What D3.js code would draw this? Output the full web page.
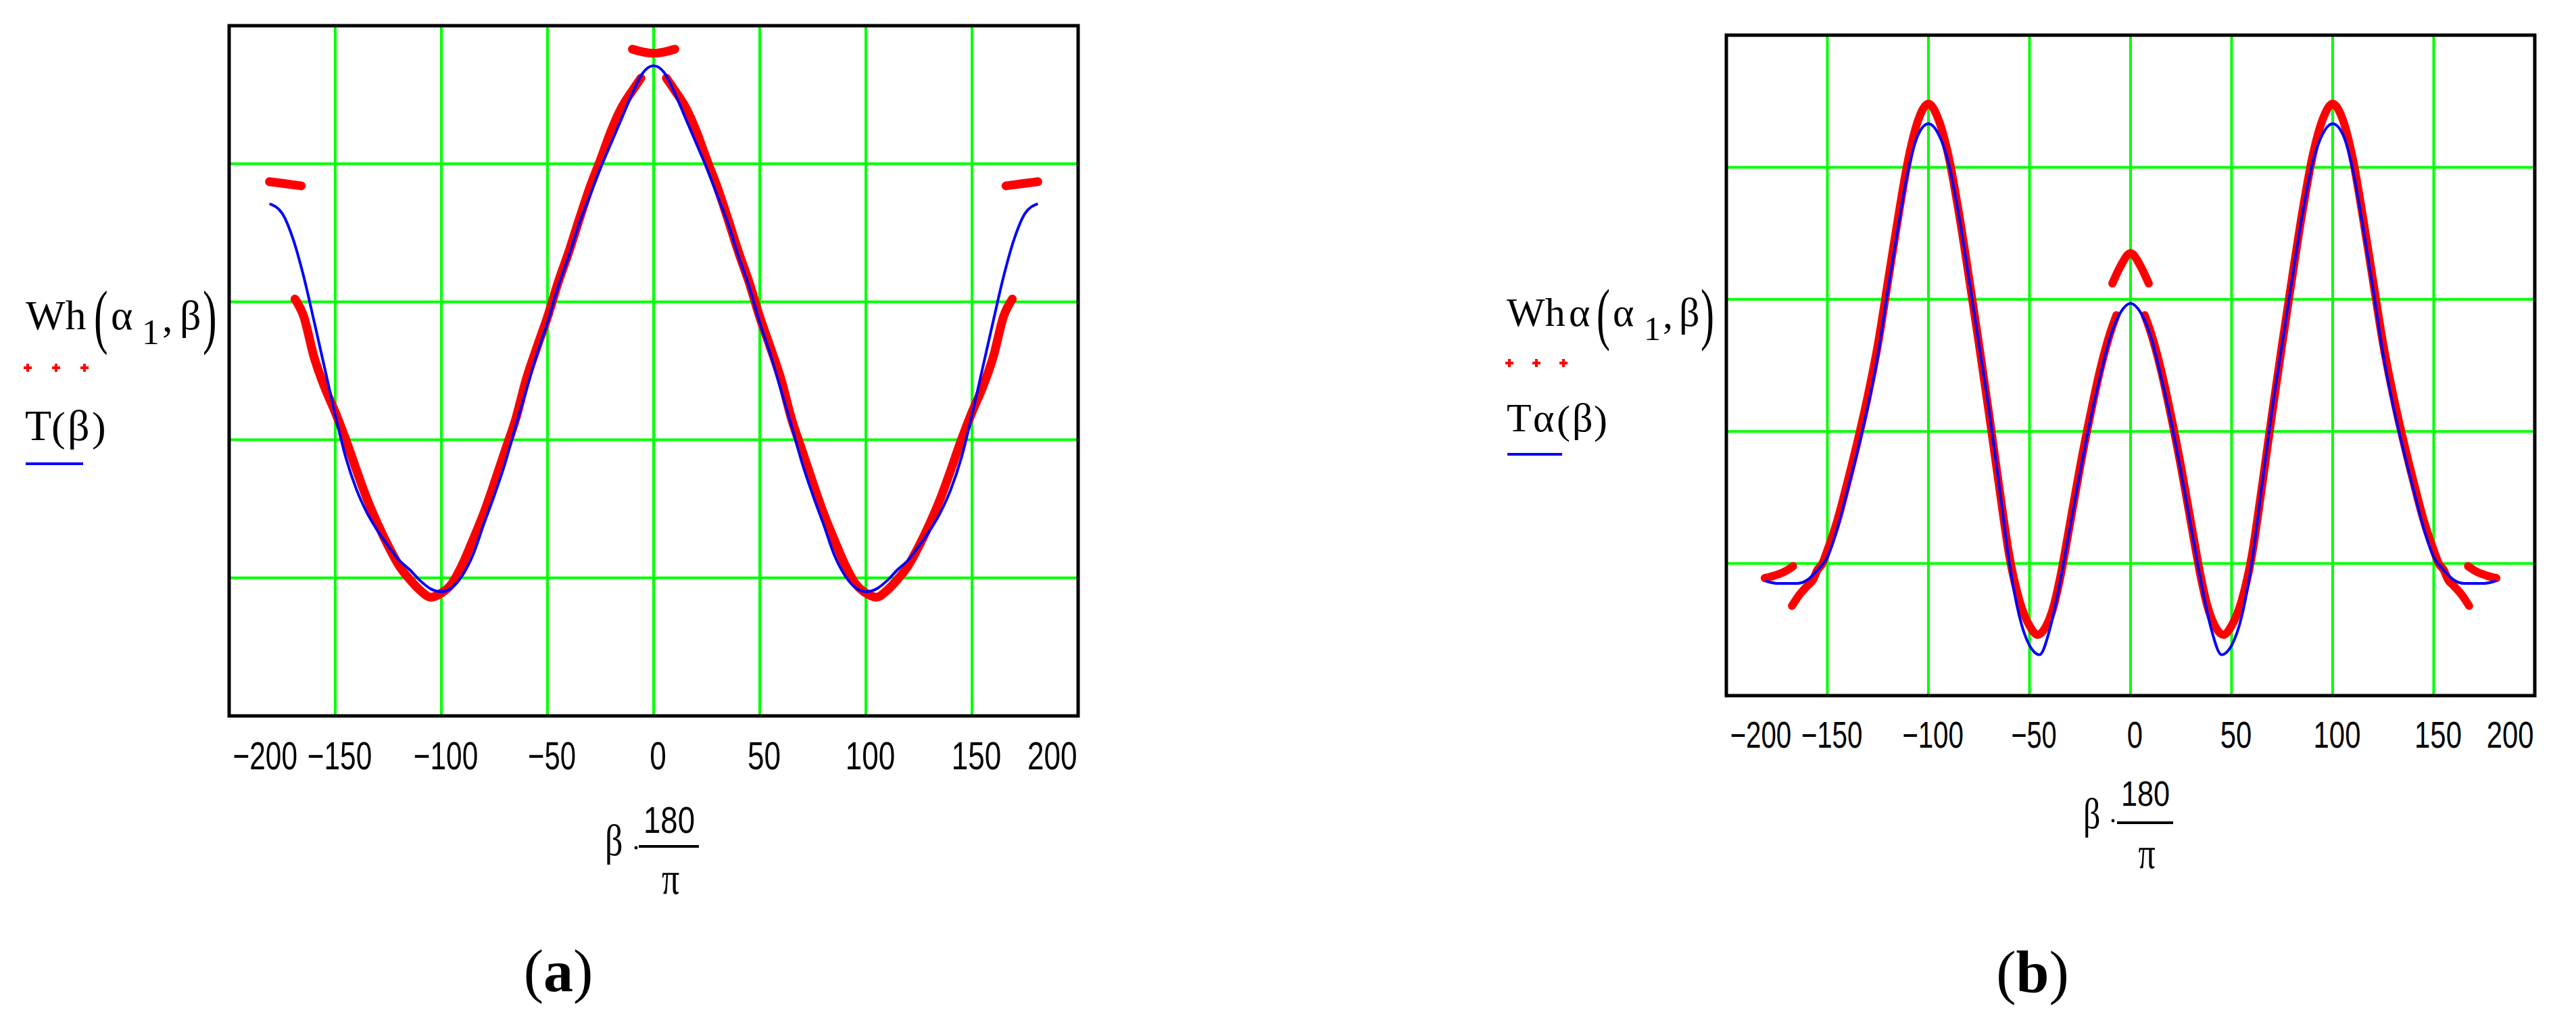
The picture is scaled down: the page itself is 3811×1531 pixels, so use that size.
<!DOCTYPE html>
<html>
<head>
<meta charset="utf-8">
<script src="https://cdn.jsdelivr.net/npm/d3@7"></script>
<style>
  body { margin: 0; background: #fff; }
  .serif { font-family: 'Liberation Serif', 'Times New Roman', serif; }
  .narrow { font-family: 'Liberation Sans', Arial, sans-serif; }
</style>
</head>
<body>
<script>
// shared axis values (beta in degrees), y is in grid units (no y labels in the source)
const xTicks = [-200, -150, -100, -50, 0, 50, 100, 150, 200];
const yGrid = [1, 2, 3, 4];

// beta sample points
const betaGrid = [-181, -175, -170, -165, -160, -155, -150, -145, -140, -135, -130, -125, -120, -115, -110, -105,
  -100, -95, -90, -85, -80, -75, -70, -65, -60, -55, -50, -45, -40, -35, -30, -25, -20, -15, -10, -5, 0,
  5, 10, 15, 20, 25, 30, 35, 40, 45, 50, 55, 60, 65, 70, 75, 80, 85, 90, 95, 100,
  105, 110, 115, 120, 125, 130, 135, 140, 145, 150, 155, 160, 165, 170, 175, 181];

// (a) T(beta), blue
const tA = [3.71, 3.64, 3.46, 3.19, 2.86, 2.52, 2.18, 1.87, 1.64, 1.47, 1.34, 1.23, 1.13, 1.06, 0.98, 0.92,
  0.90, 0.93, 1.02, 1.17, 1.39, 1.60, 1.83, 2.10, 2.36, 2.62, 2.85, 3.11, 3.33, 3.57, 3.77, 3.97, 4.15, 4.33, 4.51, 4.66, 4.71,
  4.66, 4.51, 4.33, 4.15, 3.97, 3.77, 3.57, 3.33, 3.11, 2.85, 2.62, 2.36, 2.10, 1.83, 1.60, 1.39, 1.17, 1.02, 0.93, 0.90,
  0.92, 0.98, 1.06, 1.13, 1.23, 1.34, 1.47, 1.64, 1.87, 2.18, 2.52, 2.86, 3.19, 3.46, 3.64, 3.71];

// (a) Wh(alpha1, beta), red points; null breaks the trace
const betaWh = [-181, -176, -171, -166, null,
  -169, -165, -160, -155, -150, -145, -140, -135, -130, -125, -120, -115, -110, -105, -100, -95, -90, -85, -80,
  -75, -70, -65, -60, -55, -50, -45, -40, -35, -30, -25, -20, -15, -10, -6, null,
  -10, -5, 0, 5, 10, null,
  6, 10, 15, 20, 25, 30, 35, 40, 45, 50, 55, 60, 65, 70, 75, 80, 85, 90, 95, 100, 105, 110, 115, 120,
  125, 130, 135, 140, 145, 150, 155, 160, 165, 169, null,
  166, 171, 176, 181];
const whA = [3.87, 3.86, 3.85, 3.84, null,
  3.02, 2.90, 2.60, 2.38, 2.20, 2.00, 1.78, 1.57, 1.39, 1.23, 1.09, 0.99, 0.91, 0.86, 0.89, 0.96, 1.10, 1.28, 1.47,
  1.69, 1.92, 2.15, 2.44, 2.67, 2.89, 3.14, 3.36, 3.60, 3.83, 4.03, 4.24, 4.41, 4.53, 4.62, null,
  4.83, 4.81, 4.80, 4.81, 4.83, null,
  4.62, 4.53, 4.41, 4.24, 4.03, 3.83, 3.60, 3.36, 3.14, 2.89, 2.67, 2.44, 2.15, 1.92, 1.69, 1.47, 1.28, 1.10, 0.96, 0.89, 0.86, 0.91, 0.99, 1.09,
  1.23, 1.39, 1.57, 1.78, 2.00, 2.20, 2.38, 2.60, 2.90, 3.02, null,
  3.84, 3.85, 3.86, 3.87];

// (b) T alpha(beta), blue
const tB = [0.87, 0.85, 0.85, 0.85, 0.875, 0.95, 1.05, 1.27, 1.56, 1.86, 2.19, 2.58, 3.08, 3.55, 3.98, 4.25,
  4.33, 4.25, 4.03, 3.64, 3.16, 2.66, 2.16, 1.59, 1.01, 0.60, 0.38, 0.31, 0.50, 0.85, 1.27, 1.69, 2.08, 2.42, 2.72, 2.90, 2.97,
  2.90, 2.72, 2.42, 2.08, 1.69, 1.27, 0.85, 0.50, 0.31, 0.38, 0.60, 1.01, 1.59, 2.16, 2.66, 3.16, 3.64, 4.03, 4.25, 4.33,
  4.25, 3.98, 3.55, 3.08, 2.58, 2.19, 1.86, 1.56, 1.27, 1.05, 0.95, 0.875, 0.85, 0.85, 0.85, 0.87];

// (b) Wh alpha(alpha1, beta), red points
const betaWhB = [-181, -176, -171, -167, null,
  -167.5, -164, -160, -157, -155, -152.5, -150, -145, -140, -135, -130, -125, -120, -115, -110, -105, -100,
  -95, -90, -85, -80, -75, -70, -65, -60, -55, -50, -46, -42, -38, -35, -30, -25, -20, -15, -10, -7, null,
  -9, -5, 0, 5, 9, null,
  7, 10, 15, 20, 25, 30, 35, 38, 42, 46, 50, 55, 60, 65, 70, 75, 80, 85, 90, 95,
  100, 105, 110, 115, 120, 125, 130, 135, 140, 145, 150, 152.5, 155, 157, 160, 164, 167.5, null,
  167, 171, 176, 181];
const whB = [0.89, 0.91, 0.94, 0.98, null,
  0.68, 0.76, 0.83, 0.88, 0.95, 1.00, 1.10, 1.33, 1.62, 1.93, 2.27, 2.66, 3.14, 3.62, 4.06, 4.36, 4.48,
  4.36, 4.08, 3.66, 3.17, 2.66, 2.13, 1.58, 1.06, 0.72, 0.53, 0.46, 0.52, 0.68, 0.88, 1.30, 1.73, 2.12, 2.47, 2.75, 2.88, null,
  3.12, 3.25, 3.35, 3.25, 3.12, null,
  2.88, 2.75, 2.47, 2.12, 1.73, 1.30, 0.88, 0.68, 0.52, 0.46, 0.53, 0.72, 1.06, 1.58, 2.13, 2.66, 3.17, 3.66, 4.08, 4.36,
  4.48, 4.36, 4.06, 3.62, 3.14, 2.66, 2.27, 1.93, 1.62, 1.33, 1.10, 1.00, 0.95, 0.88, 0.83, 0.76, 0.68, null,
  0.98, 0.94, 0.91, 0.89];

const svg = d3.select('body').append('svg')
  .attr('width', 3811)
  .attr('height', 1531)
  .style('background', '#fff');

const minus = d => (d < 0 ? '\u2212' + Math.abs(d) : String(d));
// condensed width of a number label, like the narrow mathcad digits
const numWidth = (s, k) => ((s.startsWith('\u2212') ? 22 : 0) + (s.replace('\u2212', '').length) * 24.5) * k;

// squeeze a text horizontally to a target width (keeps its anchor)
function squeeze(sel, tx, ty, width) {
  sel.each(function () {
    const w = this.getComputedTextLength();
    d3.select(this)
      .attr('x', null).attr('y', null)
      .attr('transform', `translate(${tx},${ty}) scale(${width / w},1)`);
  });
}

function piece(g, str, x, y, size, sy) {
  const t = g.append('text')
    .attr('class', 'serif')
    .attr('font-size', size)
    .attr('fill', '#000')
    .text(str);
  if (sy) t.attr('transform', `translate(${x},${y}) scale(1,${sy})`);
  else t.attr('x', x).attr('y', y);
  return t;
}

function drawPanel(p) {
  const x = d3.scaleLinear().domain([-200, 200]).range([p.left, p.right]);
  const y = d3.scaleLinear().domain([0, 5]).range([p.bottom, p.top]);
  const g = svg.append('g');

  // green grid
  g.selectAll('.vgrid')
    .data(xTicks.slice(1, -1))
    .enter().append('line')
    .attr('x1', d => x(d)).attr('x2', d => x(d))
    .attr('y1', p.top).attr('y2', p.bottom)
    .attr('stroke', '#00ff00').attr('stroke-width', 4);
  g.selectAll('.hgrid')
    .data(yGrid)
    .enter().append('line')
    .attr('x1', p.left).attr('x2', p.right)
    .attr('y1', d => y(d)).attr('y2', d => y(d))
    .attr('stroke', '#00ff00').attr('stroke-width', 4);

  const line = d3.line()
    .defined(d => d[0] !== null && d[1] !== null)
    .x(d => x(d[0]))
    .y(d => y(d[1]))
    .curve(d3.curveMonotoneX);

  // red trace under, blue on top
  g.append('path')
    .datum(d3.zip(p.redX, p.redY))
    .attr('d', line)
    .attr('fill', 'none')
    .attr('stroke', '#ff0000')
    .attr('stroke-width', p.redW)
    .attr('stroke-linejoin', 'round')
    .attr('stroke-linecap', 'round');
  g.append('path')
    .datum(d3.zip(p.blueX, p.blueY))
    .attr('d', line)
    .attr('fill', 'none')
    .attr('stroke', '#0000ff')
    .attr('stroke-width', 4);

  g.append('rect')
    .attr('x', p.left).attr('y', p.top)
    .attr('width', p.right - p.left).attr('height', p.bottom - p.top)
    .attr('fill', 'none').attr('stroke', '#000').attr('stroke-width', 5);

  // tick labels, mathcad style: end labels pushed inside the frame
  const last = xTicks.length - 1;
  const axis = g.append('g')
    .attr('transform', `translate(0,${p.bottom})`)
    .call(d3.axisBottom(x).tickValues(xTicks).tickSize(0).tickFormat(minus));
  axis.select('.domain').remove();
  axis.attr('font-family', null).attr('font-size', null);
  axis.selectAll('text')
    .attr('class', 'narrow')
    .attr('font-size', p.tickSize)
    .attr('fill', '#000')
    .attr('dy', 0)
    .attr('text-anchor', (d, i) => (i === 0 ? 'start' : i === last ? 'end' : 'middle'))
    .each(function (d, i) {
      const dx = i === 0 ? 5 : i === last ? -2 : 6;
      squeeze(d3.select(this), dx, p.tickBase - p.bottom, numWidth(minus(d), p.k));
    });

  // legend plus markers and the blue sample line
  p.plusX.forEach(px => {
    g.append('path')
      .attr('d', `M${px - 6},${p.plusY}H${px + 6}M${px},${p.plusY - 6}V${p.plusY + 6}`)
      .attr('stroke', '#ff0000').attr('stroke-width', 4);
  });
  g.append('line')
    .attr('x1', p.ulX[0]).attr('x2', p.ulX[1])
    .attr('y1', p.ulY).attr('y2', p.ulY)
    .attr('stroke', '#0000ff').attr('stroke-width', 4);

  p.labels(g);

  // x label  beta * 180 / pi
  const xl = p.xlab;
  piece(g, '\u03b2', xl.betaX, xl.betaY, xl.size, 1.25);
  g.append('circle').attr('cx', xl.dotX).attr('cy', xl.dotY).attr('r', 2.4).attr('fill', '#000');
  const num = g.append('text')
    .attr('class', 'narrow')
    .attr('font-size', xl.numSize)
    .attr('text-anchor', 'middle')
    .text('180');
  squeeze(num, xl.mid, xl.numY, 76 * p.k);
  g.append('line')
    .attr('x1', xl.barX[0]).attr('x2', xl.barX[1])
    .attr('y1', xl.barY).attr('y2', xl.barY)
    .attr('stroke', '#000').attr('stroke-width', 4);
  piece(g, '\u03c0', xl.mid + 2, xl.piY, xl.size, 1.3).attr('text-anchor', 'middle');

  // caption
  const cap = g.append('text')
    .attr('class', 'serif')
    .attr('x', p.capX).attr('y', p.capY)
    .attr('font-size', 88)
    .attr('text-anchor', 'middle');
  cap.append('tspan').text('(');
  cap.append('tspan').attr('font-weight', 'bold').text(p.capLetter);
  cap.append('tspan').text(')');
}

drawPanel({
  left: 339, right: 1595, top: 38, bottom: 1059, k: 1,
  blueX: betaGrid, blueY: tA, redX: betaWh, redY: whA, redW: 13,
  tickSize: 58, tickBase: 1138,
  plusX: [41, 83, 125], plusY: 544,
  ulX: [38, 123], ulY: 686,
  labels: g => {
    piece(g, 'Wh', 38, 487, 62);
    piece(g, '(', 139, 503, 62, 1.7);
    piece(g, '\u03b1', 164, 487, 62);
    piece(g, '1', 210, 509, 52);
    piece(g, ',', 240, 490, 62);
    piece(g, '\u03b2', 266, 487, 62);
    piece(g, ')', 300, 503, 62, 1.7);
    piece(g, 'T', 37, 651, 64);
    piece(g, '(', 76, 652, 62);
    piece(g, '\u03b2', 100, 651, 64);
    piece(g, ')', 136, 652, 62);
  },
  xlab: { betaX: 895, betaY: 1265, size: 52, dotX: 941, dotY: 1254, mid: 990, numY: 1232, numSize: 56,
          barX: [945, 1034], barY: 1252, piY: 1322 },
  capX: 826, capY: 1466, capLetter: 'a'
});

drawPanel({
  left: 2554, right: 3750, top: 52, bottom: 1029, k: 0.95,
  blueX: betaGrid, blueY: tB, redX: betaWhB, redY: whB, redW: 12,
  tickSize: 55, tickBase: 1106,
  plusX: [2233, 2273, 2313], plusY: 537,
  ulX: [2230, 2311], ulY: 672,
  labels: g => {
    piece(g, 'Wh', 2229, 482, 60);
    piece(g, '\u03b1', 2321, 482, 60);
    piece(g, '(', 2362, 498, 60, 1.7);
    piece(g, '\u03b1', 2386, 482, 60);
    piece(g, '1', 2432, 503, 50);
    piece(g, ',', 2460, 485, 60);
    piece(g, '\u03b2', 2484, 482, 60);
    piece(g, ')', 2516, 498, 60, 1.7);
    piece(g, 'T', 2229, 638, 60);
    piece(g, '\u03b1', 2268, 638, 60);
    piece(g, '(', 2303, 641, 60);
    piece(g, '\u03b2', 2326, 638, 60);
    piece(g, ')', 2358, 641, 60);
  },
  xlab: { betaX: 3082, betaY: 1225, size: 50, dotX: 3126, dotY: 1214, mid: 3174, numY: 1192, numSize: 51,
          barX: [3132, 3215], barY: 1217, piY: 1284 },
  capX: 3007, capY: 1468, capLetter: 'b'
});
</script>
</body>
</html>
